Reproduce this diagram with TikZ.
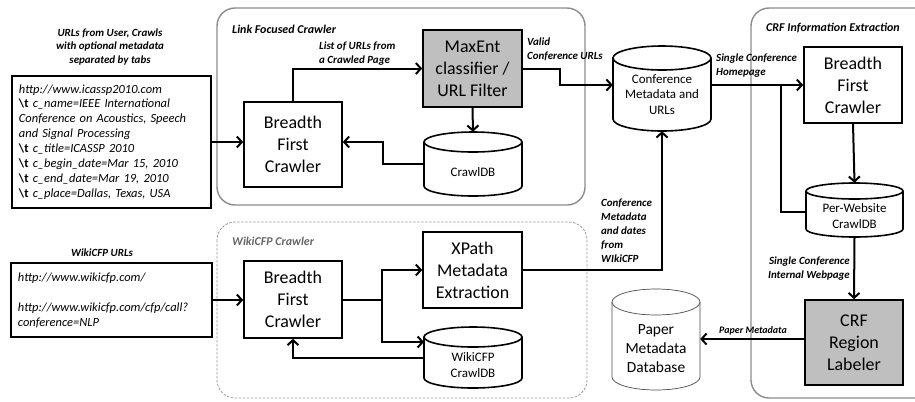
\documentclass[tikz,border=0pt]{standalone}
\usepackage{fontspec}
\setmainfont{Carlito}
\usetikzlibrary{arrows.meta}
\definecolor{boxgray}{gray}{0.75}
\definecolor{contgray}{gray}{0.55}
\definecolor{dashgray}{gray}{0.6}
\definecolor{titlegray}{gray}{0.4}
\tikzset{
  conn/.style={draw, line width=2bp, line join=miter},
  arr/.style={conn, -{Straight Barb[length=5bp,width=11bp]}},
  box/.style={draw, line width=1.6bp, align=center, inner sep=0pt, font=\fontsize{18}{22}\selectfont, minimum width=98bp},
  gbox/.style={box, fill=boxgray},
  inbox/.style={draw, line width=1.2bp, align=left, inner xsep=7bp, inner ysep=0pt, font=\fontsize{12.5}{15}\selectfont\itshape},
  lab/.style={inner sep=0pt, align=left, font=\fontsize{11}{14}\selectfont\bfseries\itshape},
  ctitle/.style={inner sep=0pt, align=left, font=\fontsize{12}{14}\selectfont\bfseries\itshape},
  cont/.style={draw=contgray, line width=1.4bp, rounded corners=18bp},
  cyl/.style={draw, line width=1.6bp},
  thincyl/.style={draw=black!70, line width=0.7bp},
  cyltext/.style={inner sep=0pt, align=center, font=\fontsize{13}{15.5}\selectfont},
  anchorbox/.style={inner sep=0pt, draw=none}
}
% #1 name, #2 x0, #3 y0, #4 x1, #5 y1, #6 half ellipse height, #7 style
\newcommand\dbcyl[7]{%
  \pgfmathsetmacro\cx{(#2+#4)/2}\pgfmathsetmacro\rx{(#4-#2)/2}%
  \pgfmathsetmacro\yt{#3+#6}\pgfmathsetmacro\yb{#5-#6}%
  \pgfmathsetmacro\cy{(#3+#5)/2}%
  \pgfmathsetmacro\ww{#4-#2}\pgfmathsetmacro\hh{#5-#3}%
  \fill[white] (#2,\yt) -- (#2,\yb) arc[start angle=180,end angle=0,x radius=\rx,y radius=#6] -- (#4,\yt) -- cycle;
  \draw[#7] (#2,\yt) -- (#2,\yb) arc[start angle=180,end angle=0,x radius=\rx,y radius=#6] -- (#4,\yt);
  \draw[#7,fill=white] (\cx,\yt) ellipse[x radius=\rx, y radius=#6];
  \node[anchorbox, minimum width=\ww bp, minimum height=\hh bp] (#1) at (\cx,\cy) {};
}
\begin{document}
\begin{tikzpicture}[x=1bp,y=-1bp]
\useasboundingbox (0,0) rectangle (915,401);

% containers
\draw[cont, fill=white] (217,8) rectangle (585,205);
\draw[draw=dashgray, line width=0.8bp, dash pattern=on 2.5bp off 1.5bp, rounded corners=18bp, fill=white] (217,222) rectangle (587,398);
\draw[cont, fill=white] (751,8) rectangle (940,398);

\node[ctitle, anchor=west] (t1) at (232,29) {Link Focused Crawler};
\node[ctitle, anchor=west, text=titlegray] (t2) at (232,241) {WikiCFP Crawler};
\node[ctitle, anchor=west] (t3) at (766,28) {CRF Information Extraction};

% inputs
\node[lab, align=center] (h1) at (110,47) {URLs from User, Crawls\\with optional metadata\\separated by tabs};
\node[inbox, text width=185bp, minimum height=132bp] (in1) at (111.5,142) {%
http://www.icassp2010.com\\
{\bfseries\upshape\textbackslash t} c\_name=IEEE International\\
Conference on Acoustics, Speech\\
and Signal Processing\\
{\bfseries\upshape\textbackslash t} c\_title=ICASSP 2010\\
{\bfseries\upshape\textbackslash t} c\_begin\_date=Mar 15, 2010\\
{\bfseries\upshape\textbackslash t} c\_end\_date=Mar 19, 2010\\
{\bfseries\upshape\textbackslash t} c\_place=Dallas, Texas, USA};

\node[lab, align=center] (h2) at (102,253) {WikiCFP URLs};
\node[inbox, text width=187bp, minimum height=74bp] (in2) at (111.5,300) {%
http://www.wikicfp.com/\\[15bp]
http://www.wikicfp.com/cfp/call?\\
conference=NLP};

% link focused crawler
\node[box, minimum height=85bp] (bfc1) at (293,144.5) {Breadth\\First\\Crawler};
\node[gbox, minimum width=99bp, minimum height=77bp] (maxent) at (472.5,68.5) {MaxEnt\\classifier /\\URL Filter};
\dbcyl{crawldb}{424}{132}{522}{196}{10}{cyl}
\node[cyltext] (crawldbt) at (473,172) {CrawlDB};

% wikicfp crawler
\node[box, minimum height=77bp] (bfc2) at (293,299.5) {Breadth\\First\\Crawler};
\node[box, minimum width=99bp, minimum height=76bp] (xpath) at (472.5,270) {XPath\\Metadata\\Extraction};
\dbcyl{wdb}{424}{327}{522}{388}{10}{cyl}
\node[cyltext] (wdbt) at (473,365) {WikiCFP\\CrawlDB};

% conference db
\dbcyl{confdb}{613}{46}{711}{131}{12}{cyl}
\node[cyltext] (confdbt) at (662,94.5) {Conference\\Metadata and\\URLs};

% paper db
\dbcyl{paperdb}{612}{289}{700}{390}{13}{thincyl}
\node[cyltext, font=\fontsize{15.5}{19}\selectfont, text=black] (paperdbt) at (656,349) {Paper\\Metadata\\Database};

% CRF
\node[box, minimum height=76bp] (bfc3) at (853,85) {Breadth\\First\\Crawler};
\dbcyl{pwdb}{806}{183}{903}{237}{8}{cyl}
\node[cyltext] (pwdbt) at (854.5,216) {Per-Website\\CrawlDB};
\node[gbox, minimum height=85bp] (crf) at (854,342.5) {CRF\\Region\\Labeler};

% coordinates
\coordinate (j1) at (383,142);
\coordinate (c1) at (560,68.5);
\coordinate (c2) at (560,85);
\coordinate (j2) at (382,299.5);
\coordinate (w1) at (424,342);
\coordinate (w2) at (424,358);
\coordinate (k1) at (781,85);
\coordinate (k2) at (806,212);
\coordinate (p1) at (751,339);

% connectors
\draw[arr] (in1.east) -- (in1.east -| bfc1.west);
\draw[arr] (bfc1.north) |- (maxent.west);
\draw[arr] (maxent.south) -- (crawldb.north);
\draw[arr] (crawldb.west) -| (j1) -- (j1 -| bfc1.east);
\draw[arr] (maxent.east) -- (c1) -- (c2) -- (c2 -| confdb.west);
\draw[arr] (c2 -| confdb.east) -- (bfc3.west);
\draw[conn] (k1) |- (k2);
\draw[arr] (bfc3.south) -- (pwdb.north);
\draw[arr] (pwdb.south) -- (crf.north);
\draw[arr] (crf.west |- p1) -- (paperdb.east |- p1);

\draw[arr] (in2.east) -- (in2.east -| bfc2.west);
\draw[conn] (bfc2.east) -- (j2);
\draw[arr] (j2) |- (xpath.west);
\draw[arr] (j2) |- (w1);
\draw[arr] (w2) -| (bfc2.south);
\draw[arr] (xpath.east) -| (confdb.south);

% labels
\node[lab, anchor=west] (l1) at (319,54) {List of URLs from\\a Crawled Page};
\node[lab, anchor=west] (l2) at (527,49.5) {Valid\\Conference URLs};
\node[lab, anchor=west] (l3) at (716,66) {Single Conference\\Homepage};
\node[lab, anchor=west] (l4) at (601,231) {Conference\\Metadata\\and dates\\from\\WIkiCFP};
\node[lab, align=right, anchor=east] (l5) at (850,269) {Single Conference\\Internal Webpage};
\node[lab, font=\fontsize{10}{12}\selectfont\bfseries\itshape] (l6) at (753,331) {Paper Metadata};
\end{tikzpicture}
\end{document}
